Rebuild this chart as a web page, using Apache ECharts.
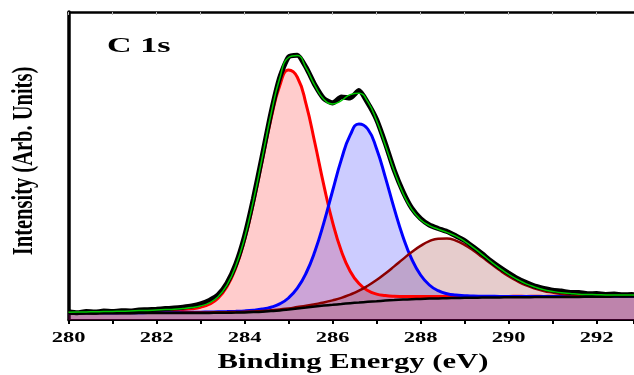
<!DOCTYPE html>
<html><head><meta charset="utf-8">
<script src="https://cdn.jsdelivr.net/npm/echarts@6/dist/echarts.min.js"></script>
<style>html,body{margin:0;padding:0;background:#fff}#c{width:634px;height:375px}</style>
</head><body><div id="c"></div>
<script>
const energy = [280.0,280.2,280.4,280.6,280.8,281.0,281.2,281.4,281.6,281.8,
282.0,282.2,282.4,282.6,282.8,283.0,283.2,283.4,283.6,283.8,
284.0,284.2,284.4,284.6,284.8,285.0,285.2,285.4,285.6,285.8,
286.0,286.2,286.4,286.6,286.8,287.0,287.2,287.4,287.6,287.8,
288.0,288.2,288.4,288.6,288.8,289.0,289.2,289.4,289.6,289.8,
290.0,290.2,290.4,290.6,290.8,291.0,291.2,291.4,291.6,291.8,
292.0,292.2,292.4,292.6,292.8,293.0];
const baseline = [6.5,6.5,6.6,6.6,6.7,6.7,6.8,6.8,6.9,6.9,
7.0,7.0,7.0,7.0,7.0,7.0,7.1,7.2,7.3,7.4,
7.6,7.9,8.3,8.9,9.6,10.5,11.5,12.5,13.5,14.4,
15.2,16.0,16.8,17.5,18.2,18.8,19.4,19.9,20.4,20.8,
21.1,21.4,21.6,21.8,22.0,22.2,22.3,22.4,22.5,22.6,
22.7,22.8,22.8,22.9,22.9,23.0,23.0,23.1,23.1,23.2,
23.3,23.3,23.4,23.4,23.5,23.5];
const peakCC = [7.3,7.4,7.6,7.7,7.9,8.0,8.2,8.4,8.7,8.9,
9.2,9.5,9.9,10.5,11.3,12.8,15.8,21.8,33.2,52.0,
79.8,116.6,158.7,200.8,234.2,249.9,242.7,215.6,176.7,135.2,
97.9,68.9,48.8,36.4,29.5,25.9,24.4,23.7,23.5,23.4,
23.4,23.4,23.4,23.4,23.5,23.5,23.5,23.5,23.5,23.6,
23.6,23.7,23.6,23.7,23.6,23.7,23.6,23.7,23.7,23.7,
23.8,23.8,23.9,23.9,23.9,23.9];
const peakCO = [6.8,6.8,6.9,6.9,7.0,7.0,7.2,7.2,7.3,7.4,
7.5,7.6,7.6,7.7,7.7,7.8,8.0,8.2,8.4,8.7,
9.1,9.8,10.9,12.8,16.1,22.0,31.8,47.0,68.8,96.9,
129.0,160.4,184.8,196.1,191.0,171.3,142.7,111.6,83.3,60.8,
45.0,35.0,29.3,26.3,24.9,24.3,23.9,23.8,23.7,23.6,
23.6,23.6,23.5,23.6,23.5,23.6,23.5,23.6,23.5,23.6,
23.7,23.7,23.7,23.7,23.8,23.8];
const peakOCO = [6.7,6.7,6.8,6.8,6.9,6.9,7.0,7.1,7.2,7.2,
7.3,7.3,7.3,7.4,7.4,7.4,7.6,7.7,7.8,8.0,
8.2,8.6,9.0,9.7,10.6,11.6,12.9,14.2,15.8,17.5,
19.6,22.1,25.4,29.3,34.2,39.9,46.5,53.6,60.9,68.0,
74.1,78.8,81.3,81.5,79.4,75.2,69.5,62.9,56.2,49.7,
43.8,38.8,34.6,31.5,29.0,27.4,26.1,25.4,24.8,24.6,
24.4,24.3,24.2,24.1,24.2,24.1];
const envelope = [7.7,7.9,8.1,8.2,8.4,8.6,8.8,9.0,9.4,9.6,
10.0,10.4,10.8,11.5,12.4,14.0,17.1,23.3,34.8,53.9,
81.9,119.2,162.0,205.5,241.7,262.5,264.4,251.8,234.3,220.8,
216.1,219.4,225.4,226.8,218.3,199.5,174.8,149.1,126.9,110.6,
100.3,94.4,90.8,87.6,83.8,78.6,72.3,65.4,58.4,51.7,
45.6,40.5,36.1,32.9,30.3,28.6,27.2,26.5,25.8,25.5,
25.3,25.1,25.0,24.9,24.9,24.8];
const measured = [8.2,7.2,8.6,7.9,8.9,8.4,9.3,9.1,10.0,10.2,
10.7,11.4,11.9,12.8,14.0,16.0,19.6,25.2,36.8,55.6,
83.6,121.0,163.5,206.8,242.5,263.0,264.8,252.5,235.0,221.5,
217.0,223.0,222.0,229.5,217.0,200.5,176.5,150.0,128.5,111.8,
101.5,95.0,91.5,88.5,84.2,79.5,73.0,66.2,59.0,52.6,
46.8,41.5,37.4,33.8,31.6,29.8,28.9,27.6,27.4,26.3,
26.4,25.6,25.9,25.2,25.4,24.9];
const tickLabels = [280,282,284,286,288,290,292];
const peakLabel = 'C 1s';
const xTitle = 'Binding Energy (eV)';
const yTitle = 'Intensity (Arb. Units)';

function pairs(arr){ return energy.map(function(e,i){ return [e, arr[i]]; }); }

const chart = echarts.init(document.getElementById('c'), null, {renderer:'canvas'});
const serif = '"Liberation Serif", "Times New Roman", serif';

function comp(name, data, color, fill, w){
  return {name:name, type:'line', data:pairs(data), smooth:0.5, symbol:'none',
    lineStyle:{color:color, width:w}, areaStyle:{color:fill, opacity:1}};
}

chart.setOption({
  animation:false,
  grid:{left:68.5, right:0, top:12, bottom:55},
  xAxis:[{type:'value', min:280, max:292.85, interval:1, position:'bottom',
      axisLine:{show:true, onZero:false, lineStyle:{color:'#000', width:2}},
      axisTick:{show:true, inside:false, length:4, lineStyle:{color:'#000', width:2}},
      axisLabel:{show:false}, splitLine:{show:false}},
    {type:'value', min:280, max:292.85, interval:1, position:'top',
      axisLine:{show:true, onZero:false, lineStyle:{color:'#000', width:2.5}},
      axisTick:{show:true, inside:true, length:3, lineStyle:{color:'#bbb', width:1}},
      axisLabel:{show:false}, splitLine:{show:false}}],
  yAxis:{type:'value', min:0, max:308,
    axisLine:{show:true, lineStyle:{color:'#000', width:3.5}},
    axisTick:{show:false}, axisLabel:{show:false}, splitLine:{show:false}},
  series:[
    comp('C-C', peakCC, '#ff0000', 'rgba(255,0,0,0.2)', 3),
    comp('C-O', peakCO, '#0000ff', 'rgba(0,0,255,0.2)', 3),
    comp('O-C=O', peakOCO, '#8b0000', 'rgba(128,0,0,0.2)', 2.5),
    {name:'Background', type:'line', data:pairs(baseline), smooth:0.5, symbol:'none',
      lineStyle:{color:'#000', width:2.5}},
    {name:'Measured', type:'line', data:pairs(measured), smooth:0.2, symbol:'none',
      lineStyle:{color:'#000', width:5}},
    {name:'Fit', type:'line', data:pairs(envelope), smooth:0.5, symbol:'none',
      lineStyle:{color:'#00c800', width:1.5}}
  ]
});

const g = [];
tickLabels.forEach(function(t){
  const px = chart.convertToPixel({xAxisIndex:0}, t);
  g.push({type:'text', x:px, y:338.5, scaleX:1.5, silent:true,
    style:{text:String(t), fontFamily:serif, fontWeight:'bold', fontSize:15, fill:'#000', align:'center', verticalAlign:'middle'}});
});
g.push({type:'text', x:353, y:362.5, scaleX:1.46, silent:true,
  style:{text:xTitle, fontFamily:serif, fontWeight:'bold', fontSize:21, fill:'#000', align:'center', verticalAlign:'middle'}});
g.push({type:'text', x:24, y:161, rotation:Math.PI/2, scaleY:1.48, silent:true,
  style:{text:yTitle, fontFamily:serif, fontWeight:'bold', fontSize:20.5, fill:'#000', align:'center', verticalAlign:'middle'}});
g.push({type:'text', x:107, y:46.5, scaleX:1.55, silent:true,
  style:{text:peakLabel, fontFamily:serif, fontWeight:'bold', fontSize:22, fill:'#000', align:'left', verticalAlign:'middle'}});
chart.setOption({graphic:g});
</script>
</body></html>
